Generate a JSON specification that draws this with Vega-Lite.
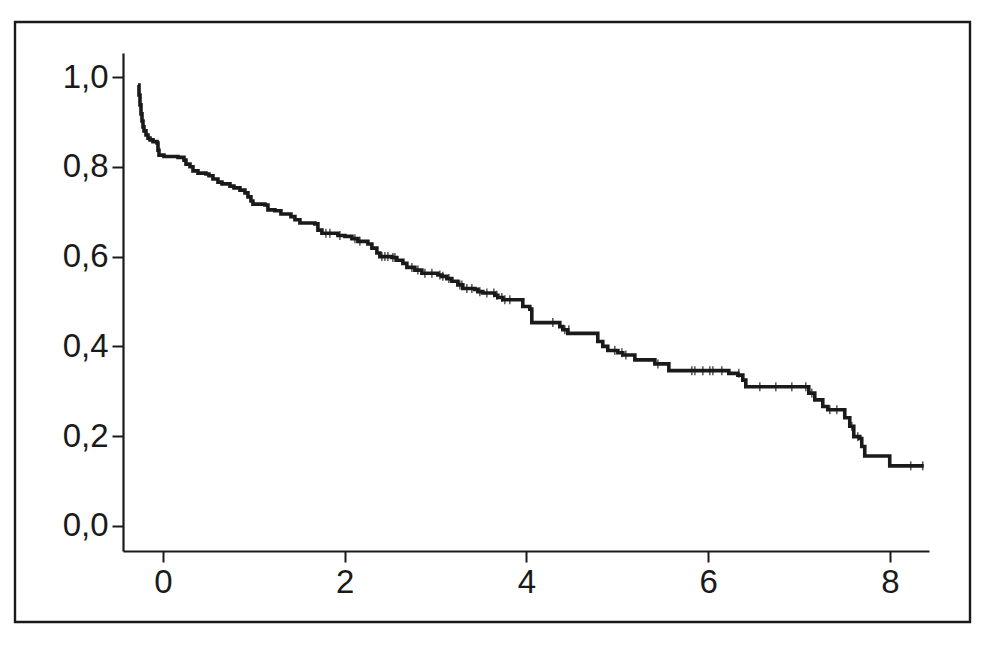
{
  "$schema": "https://vega.github.io/schema/vega-lite/v6.json",
  "width": 955,
  "height": 600,
  "autosize": {"type": "none"},
  "padding": {"left": 15, "top": 22, "right": 21, "bottom": 23},
  "background": "white",
  "config": {
    "view": {"stroke": "#1a1a1a", "strokeWidth": 2.4},
    "axis": {
      "grid": false,
      "domainColor": "#1a1a1a",
      "domainWidth": 2.2,
      "tickColor": "#1a1a1a",
      "tickWidth": 2,
      "tickSize": 11,
      "labelFont": "Liberation Sans",
      "labelFontSize": 33,
      "labelColor": "#1a1a1a",
      "title": null
    }
  },
  "datasets": {
    "curve": [
      {"t": -0.275, "s": 0.982}, {"t": -0.264, "s": 0.960}, {"t": -0.253, "s": 0.938}, {"t": -0.242, "s": 0.918},
      {"t": -0.231, "s": 0.902}, {"t": -0.220, "s": 0.889}, {"t": -0.209, "s": 0.880}, {"t": -0.187, "s": 0.871},
      {"t": -0.165, "s": 0.864}, {"t": -0.143, "s": 0.860}, {"t": -0.110, "s": 0.856}, {"t": -0.066, "s": 0.853},
      {"t": -0.055, "s": 0.837}, {"t": -0.044, "s": 0.826}, {"t": 0.011, "s": 0.823}, {"t": 0.165, "s": 0.821},
      {"t": 0.231, "s": 0.815}, {"t": 0.253, "s": 0.806}, {"t": 0.297, "s": 0.800}, {"t": 0.330, "s": 0.791},
      {"t": 0.385, "s": 0.786}, {"t": 0.473, "s": 0.784}, {"t": 0.506, "s": 0.780}, {"t": 0.550, "s": 0.773},
      {"t": 0.605, "s": 0.766}, {"t": 0.649, "s": 0.762}, {"t": 0.737, "s": 0.757}, {"t": 0.781, "s": 0.753},
      {"t": 0.847, "s": 0.748}, {"t": 0.902, "s": 0.742}, {"t": 0.935, "s": 0.733}, {"t": 0.968, "s": 0.724},
      {"t": 0.990, "s": 0.717}, {"t": 1.122, "s": 0.715}, {"t": 1.155, "s": 0.704}, {"t": 1.232, "s": 0.702},
      {"t": 1.298, "s": 0.695}, {"t": 1.408, "s": 0.689}, {"t": 1.452, "s": 0.682}, {"t": 1.507, "s": 0.675},
      {"t": 1.672, "s": 0.673}, {"t": 1.705, "s": 0.659}, {"t": 1.749, "s": 0.652}, {"t": 1.925, "s": 0.647},
      {"t": 2.002, "s": 0.645}, {"t": 2.079, "s": 0.640}, {"t": 2.145, "s": 0.634}, {"t": 2.255, "s": 0.628},
      {"t": 2.299, "s": 0.619}, {"t": 2.354, "s": 0.608}, {"t": 2.387, "s": 0.600}, {"t": 2.519, "s": 0.598},
      {"t": 2.574, "s": 0.592}, {"t": 2.640, "s": 0.585}, {"t": 2.684, "s": 0.576}, {"t": 2.772, "s": 0.570},
      {"t": 2.849, "s": 0.563}, {"t": 3.025, "s": 0.559}, {"t": 3.069, "s": 0.556}, {"t": 3.124, "s": 0.551},
      {"t": 3.179, "s": 0.545}, {"t": 3.245, "s": 0.537}, {"t": 3.300, "s": 0.529}, {"t": 3.432, "s": 0.527},
      {"t": 3.465, "s": 0.522}, {"t": 3.520, "s": 0.519}, {"t": 3.652, "s": 0.514}, {"t": 3.685, "s": 0.509},
      {"t": 3.740, "s": 0.504}, {"t": 3.960, "s": 0.489}, {"t": 4.037, "s": 0.483}, {"t": 4.059, "s": 0.453},
      {"t": 4.367, "s": 0.444}, {"t": 4.400, "s": 0.437}, {"t": 4.455, "s": 0.429}, {"t": 4.785, "s": 0.411},
      {"t": 4.840, "s": 0.400}, {"t": 4.895, "s": 0.391}, {"t": 5.006, "s": 0.386}, {"t": 5.061, "s": 0.381},
      {"t": 5.193, "s": 0.370}, {"t": 5.413, "s": 0.361}, {"t": 5.567, "s": 0.346}, {"t": 6.227, "s": 0.340},
      {"t": 6.326, "s": 0.336}, {"t": 6.381, "s": 0.325}, {"t": 6.414, "s": 0.310}, {"t": 7.107, "s": 0.296},
      {"t": 7.173, "s": 0.281}, {"t": 7.261, "s": 0.266}, {"t": 7.316, "s": 0.259}, {"t": 7.503, "s": 0.241},
      {"t": 7.558, "s": 0.222}, {"t": 7.602, "s": 0.199}, {"t": 7.668, "s": 0.195}, {"t": 7.690, "s": 0.177},
      {"t": 7.723, "s": 0.156}, {"t": 7.998, "s": 0.134}, {"t": 8.372, "s": 0.134}
    ],
    "censored": [
      {"t": 1.793, "s": 0.652}, {"t": 1.837, "s": 0.652}, {"t": 1.947, "s": 0.647}, {"t": 2.112, "s": 0.640},
      {"t": 2.167, "s": 0.634}, {"t": 2.409, "s": 0.600}, {"t": 2.442, "s": 0.600}, {"t": 2.475, "s": 0.600},
      {"t": 2.530, "s": 0.598}, {"t": 2.552, "s": 0.598}, {"t": 2.739, "s": 0.576}, {"t": 2.805, "s": 0.570},
      {"t": 2.882, "s": 0.563}, {"t": 2.959, "s": 0.563}, {"t": 3.047, "s": 0.559}, {"t": 3.080, "s": 0.556},
      {"t": 3.146, "s": 0.551}, {"t": 3.267, "s": 0.537}, {"t": 3.289, "s": 0.537}, {"t": 3.344, "s": 0.529},
      {"t": 3.399, "s": 0.529}, {"t": 3.487, "s": 0.522}, {"t": 3.564, "s": 0.519}, {"t": 3.641, "s": 0.519},
      {"t": 3.674, "s": 0.514}, {"t": 3.729, "s": 0.509}, {"t": 3.762, "s": 0.504}, {"t": 3.817, "s": 0.504},
      {"t": 4.290, "s": 0.453}, {"t": 4.422, "s": 0.437}, {"t": 4.466, "s": 0.437}, {"t": 4.972, "s": 0.391},
      {"t": 5.050, "s": 0.386}, {"t": 5.094, "s": 0.381}, {"t": 5.446, "s": 0.361}, {"t": 5.820, "s": 0.346},
      {"t": 5.853, "s": 0.346}, {"t": 5.941, "s": 0.346}, {"t": 6.018, "s": 0.346}, {"t": 6.051, "s": 0.346},
      {"t": 6.150, "s": 0.346}, {"t": 6.337, "s": 0.340}, {"t": 6.568, "s": 0.310}, {"t": 6.744, "s": 0.310},
      {"t": 6.920, "s": 0.310}, {"t": 7.074, "s": 0.310}, {"t": 7.140, "s": 0.296}, {"t": 7.338, "s": 0.259},
      {"t": 7.415, "s": 0.259}, {"t": 7.580, "s": 0.222}, {"t": 7.646, "s": 0.199}, {"t": 8.229, "s": 0.134},
      {"t": 8.361, "s": 0.134}
    ]
  },
  "encoding": {
    "x": {
      "field": "t", "type": "quantitative",
      "scale": {"domain": [-0.44, 8.43], "range": [108, 914], "nice": false, "zero": false},
      "axis": {"values": [0, 2, 4, 6, 8], "offset": -71, "labelPadding": 4, "format": "d"}
    },
    "y": {
      "field": "s", "type": "quantitative",
      "scale": {"domain": [-0.0557, 1.0535], "range": [529, 31], "nice": false, "zero": false},
      "axis": {"values": [0, 0.2, 0.4, 0.6, 0.8, 1.0], "offset": -108, "labelPadding": 4,
               "labelExpr": "replace(format(datum.value, '.1f'), '.', ',')"}
    }
  },
  "layer": [
    {
      "data": {"name": "curve"},
      "mark": {"type": "line", "interpolate": "step-after", "color": "#1a1a1a", "strokeWidth": 3.6}
    },
    {
      "data": {"name": "censored"},
      "mark": {"type": "tick", "orient": "vertical", "color": "#1a1a1a", "size": 9, "thickness": 1.6}
    }
  ]
}
